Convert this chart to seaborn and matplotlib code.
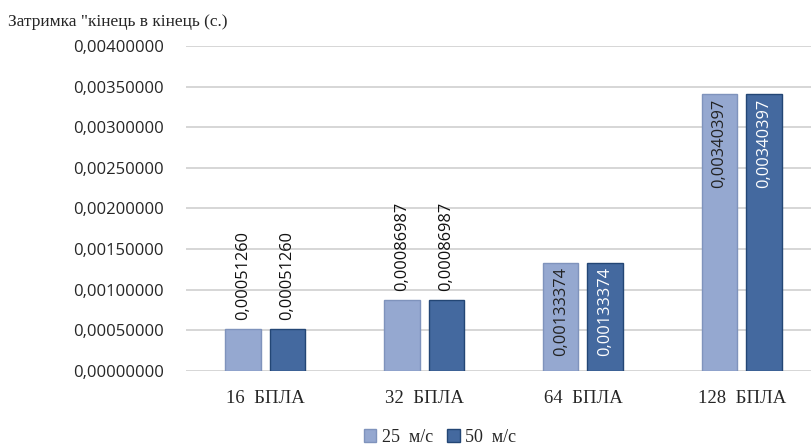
import matplotlib
matplotlib.use("Agg")
import matplotlib.pyplot as plt
import seaborn as sns
import pandas as pd
from matplotlib.ticker import FuncFormatter
from matplotlib.patches import Patch

categories = ["16  БПЛА", "32  БПЛА", "64  БПЛА", "128  БПЛА"]
series = ["25  м/с", "50  м/с"]
v25 = [0.00051260, 0.00086987, 0.00133374, 0.00340397]
v50 = [0.00051260, 0.00086987, 0.00133374, 0.00340397]
labels25 = ["0,00051260", "0,00086987", "0,00133374", "0,00340397"]
labels50 = ["0,00051260", "0,00086987", "0,00133374", "0,00340397"]

df = pd.DataFrame({
    "cat": categories * 2,
    "speed": [series[0]] * 4 + [series[1]] * 4,
    "val": v25 + v50,
    "lab": labels25 + labels50,
})

sns.set_style("white")
fig = plt.figure(figsize=(8.11, 4.48), dpi=100)
ax = fig.add_axes([186 / 811, 77 / 448, 635 / 811, 325 / 448])

face = ["#95A8D0", "#44699F"]
edge = ["#7F93BC", "#234675"]
sns.barplot(data=df, x="cat", y="val", hue="speed", palette=face,
            width=0.56, gap=0.2, ax=ax, legend=False, saturation=1)

for i, cont in enumerate(ax.containers):
    labs = labels25 if i == 0 else labels50
    for bar, lab, v in zip(cont, labs, (v25 if i == 0 else v50)):
        bar.set_edgecolor(edge[i])
        bar.set_linewidth(1.0)
        xc = bar.get_x() + bar.get_width() / 2
        h = bar.get_height()
        if v > 0.0012:
            col = "#222222" if i == 0 else "white"
            ax.text(xc, h - 0.00005, lab, rotation=90, ha="center", va="top",
                    fontsize=11.8, color=col, family="Open Sans")
        else:
            ax.text(xc, h + 0.00012, lab, rotation=90, ha="center", va="bottom",
                    fontsize=11.8, color="#111111", family="Open Sans")

ax.set_ylim(0, 0.004)
ax.set_xlim(-0.5, 3.5)
ax.set_yticks([i * 0.0005 for i in range(9)])
ax.yaxis.set_major_formatter(FuncFormatter(lambda y, p: f"{y:.8f}".replace(".", ",")))
ax.grid(axis="y", color="#D0D0D0", linewidth=1.2)
ax.set_axisbelow(True)
for s in ax.spines.values():
    s.set_visible(False)
ax.tick_params(axis="y", length=0, pad=16, labelsize=12)
ax.tick_params(axis="x", length=0, pad=14)
for t in ax.get_yticklabels():
    t.set_family("Open Sans")
for t in ax.get_xticklabels():
    t.set_family("Liberation Serif")
    t.set_fontsize(13.5)
ax.set_xlabel("")
ax.set_ylabel("")

fig.text(8 / 811, 1 - 22 / 448, "Затримка \"кінець в кінець (с.)", fontsize=12.5,
         family="Liberation Serif", va="center", ha="left")

handles = [Patch(facecolor=face[i], edgecolor=edge[i]) for i in range(2)]
fig.legend(handles, series, loc="center", bbox_to_anchor=(440 / 811, 1 - 437 / 448),
           ncol=2, frameon=False, handlelength=0.7, handleheight=0.7,
           handletextpad=0.3, columnspacing=0.8,
           prop={"family": "Liberation Serif", "size": 13})

fig.savefig("out.png", dpi=100)
